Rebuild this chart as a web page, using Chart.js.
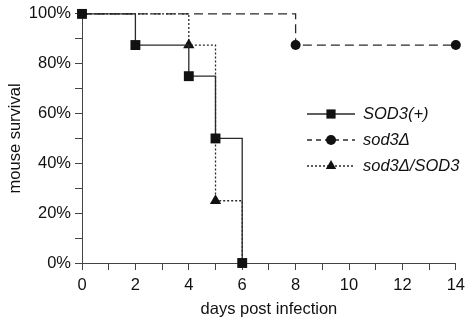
<!DOCTYPE html>
<html>
<head>
<meta charset="utf-8">
<script src="https://cdn.jsdelivr.net/npm/chart.js@4.4.1/dist/chart.umd.min.js"></script>
<style>
html, body { margin: 0; padding: 0; background: #fff; }
</style>
</head>
<body>
<canvas id="chart" width="471" height="324"></canvas>
<script>
// survival data (percent of mice alive)
const sod3PlusDays = [0, 2, 4, 5, 6];
const sod3PlusSurv = [100, 87.5, 75, 50, 0];
const sod3DelDays = [0, 8, 14];
const sod3DelSurv = [100, 87.5, 87.5];
const sod3RescDays = [0, 4, 5, 6];
const sod3RescSurv = [100, 87.5, 25, 0];
const seriesNames = ['SOD3(+)', 'sod3\u0394', 'sod3\u0394/SOD3'];

const FONT = 'Arial, "Liberation Sans", sans-serif';

function pts(xs, ys) {
	return xs.map(function(x, i) { return { x: x, y: ys[i] }; });
}

function marker(ctx, style, r, x, y) {
	ctx.beginPath();
	if (style === 'rect') {
		var s = r * Math.SQRT1_2;
		ctx.rect(x - s, y - s, 2 * s, 2 * s);
	} else if (style === 'circle') {
		ctx.arc(x, y, r, 0, Math.PI * 2);
	} else {
		ctx.moveTo(x, y - r);
		ctx.lineTo(x + r * 0.866, y + r / 2);
		ctx.lineTo(x - r * 0.866, y + r / 2);
		ctx.closePath();
	}
	ctx.fill();
}

// legend on the right side, line + marker + italic label
var sideLegend = {
	id: 'sideLegend',
	afterDraw: function(chart) {
		var ctx = chart.ctx;
		chart.data.datasets.forEach(function(ds, i) {
			var y = 114 + i * 26;
			ctx.save();
			ctx.strokeStyle = ds.borderColor;
			ctx.lineWidth = ds.borderWidth;
			ctx.setLineDash(ds.legendDash);
			ctx.beginPath();
			ctx.moveTo(307, y);
			ctx.lineTo(355, y);
			ctx.stroke();
			ctx.setLineDash([]);
			ctx.fillStyle = ds.pointBackgroundColor;
			marker(ctx, ds.pointStyle, ds.legendRadius, 331, y);
			ctx.fillStyle = '#111';
			ctx.font = 'italic 16.5px ' + FONT;
			ctx.textBaseline = 'middle';
			ctx.fillText(ds.label, 363, y);
			ctx.restore();
		});
	}
};

var ctx = document.getElementById('chart');

var survChart = new Chart(ctx, {
	type: 'line',
	data: {
		datasets: [
			{
				label: seriesNames[0],
				data: pts(sod3PlusDays, sod3PlusSurv),
				stepped: 'before',
				borderColor: '#2a2a2a',
				borderWidth: 1.3,
				borderDash: [],
				legendDash: [],
				pointStyle: 'rect',
				pointRadius: 7,
				legendRadius: 6.5,
				pointBackgroundColor: '#111',
				pointBorderWidth: 0,
				clip: false
			},
			{
				label: seriesNames[1],
				data: pts(sod3DelDays, sod3DelSurv),
				stepped: 'before',
				borderColor: '#2a2a2a',
				borderWidth: 1.3,
				borderDash: [9, 5],
				legendDash: [5, 4],
				pointStyle: 'circle',
				pointRadius: [0, 5, 5],
				legendRadius: 5,
				pointBackgroundColor: '#111',
				pointBorderWidth: 0,
				clip: false
			},
			{
				label: seriesNames[2],
				data: pts(sod3RescDays, sod3RescSurv),
				stepped: 'before',
				borderColor: '#2a2a2a',
				borderWidth: 1.3,
				borderDash: [2, 2],
				legendDash: [2, 2],
				pointStyle: 'triangle',
				pointRadius: [0, 6.5, 6.5, 0],
				legendRadius: 6,
				pointBackgroundColor: '#111',
				pointBorderWidth: 0,
				clip: false
			}
		]
	},
	options: {
		responsive: false,
		animation: false,
		devicePixelRatio: 1,
		layout: { padding: { top: 12, right: 14, left: 0, bottom: 0 } },
		plugins: {
			legend: { display: false },
			tooltip: { enabled: false }
		},
		scales: {
			x: {
				type: 'linear',
				min: 0,
				max: 14,
				afterFit: function(s) { s.height = 61; },
				ticks: {
					stepSize: 1,
					autoSkip: false,
					maxRotation: 0,
					padding: 6,
					color: '#111',
					font: { family: FONT, size: 16.5 },
					callback: function(v) { return v % 2 === 0 ? v : ''; }
				},
				grid: { drawOnChartArea: false, drawTicks: true, tickLength: 7, color: '#444' },
				border: { color: '#444', width: 1 },
				title: {
					display: true,
					text: 'days post infection',
					color: '#111',
					font: { family: FONT, size: 16.5 },
					padding: { top: 0, bottom: 5 }
				}
			},
			y: {
				min: 0,
				max: 100,
				afterFit: function(s) { s.width = 82; },
				ticks: {
					stepSize: 10,
					autoSkip: false,
					padding: 4,
					color: '#111',
					font: { family: FONT, size: 16.5 },
					callback: function(v) { return v % 20 === 0 ? v + '%' : ''; }
				},
				grid: { drawOnChartArea: false, drawTicks: true, tickLength: 7, color: '#444' },
				border: { color: '#444', width: 1 },
				title: {
					display: true,
					text: 'mouse survival',
					color: '#111',
					font: { family: FONT, size: 16.5 },
					padding: { top: 6, bottom: 0 }
				}
			}
		}
	},
	plugins: [sideLegend]
});
</script>
</body>
</html>
